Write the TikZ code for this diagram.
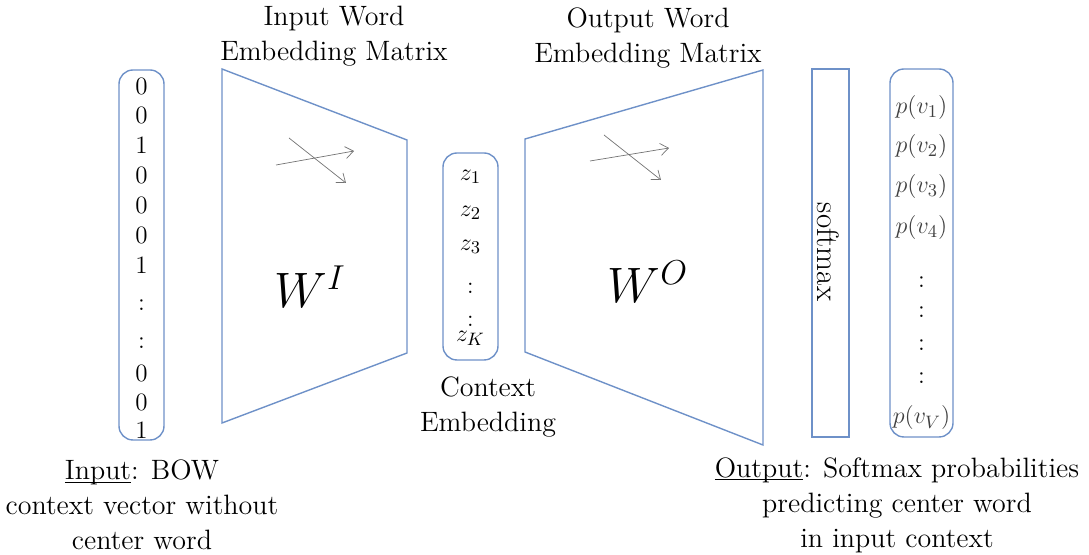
\documentclass[tikz,border=0pt]{standalone}
\usepackage{amsmath,amssymb}
\usepackage{tikz}
\usetikzlibrary{arrows.meta,positioning}
\definecolor{lineblue}{RGB}{110,145,200}
\newcommand{\ulword}[1]{\setbox0\hbox{#1}\rlap{\rule[-1.6pt]{\wd0}{0.45pt}}#1}
\tikzset{
    vecbox/.style={
                draw=lineblue,
                line width=0.7pt,
                rounded corners=7pt,
                inner sep=0pt
            },
        matedge/.style={
                draw=lineblue,
                line width=0.7pt
            },
        flowarrow/.style={
                draw=black!55,
                line width=0.35pt,
                -{Straight Barb[length=4pt,width=6pt]}
            },
        caption/.style={
                align=center,
                font=\fontsize{14}{17.5}\selectfont
            },
        entry/.style={
                font=\fontsize{12.5}{14}\selectfont,
                inner sep=0pt
            },
}

\begin{document}
\begin{tikzpicture}[x=0.5pt,y=-0.5pt]
  \useasboundingbox (0,0) rectangle (1089,555);
  % Input vector
  \node[vecbox,minimum width=22.5pt,minimum height=185pt] (inputvec) at (141.5,255) {};
  \foreach \yy/\val in {86/0,115/0,145/1,175/0,205/0,235/0,265/1,305/:,343/:,373/0,402/0,430/1}
    \node[entry] at (141.5,\yy) {\val};
  % Input word embedding matrix
  \draw[matedge] (222,69) -- (407,140) -- (407,353) -- (222,423) -- cycle;
  \node[font=\fontsize{25}{28}\selectfont] (WI) at (310,287) {$W^I$};
  \draw[flowarrow] (276,165) -- (354,151);
  \draw[flowarrow] (289,138) -- (346,183);
  \node[caption] (inlabel) at (334,36) {Input Word\\Embedding Matrix};
  % Context embedding
  \node[vecbox,minimum width=27.5pt,minimum height=103.5pt] (zvec) at (470.5,256.5) {};
  \foreach \yy/\val in {177/z_1,213/z_2,247/z_3,288/:,321/:,338/z_K}
    \node[entry] at (470.5,\yy) {$\val$};
  \node[caption] (ctxlabel) at (488,407) {Context\\Embedding};
  % Output word embedding matrix
  \draw[matedge] (525,139) -- (763,70) -- (763,445) -- (525,352) -- cycle;
  \node[font=\fontsize{25}{28}\selectfont] (WO) at (648,282) {$W^O$};
  \draw[flowarrow] (590,161) -- (669,148);
  \draw[flowarrow] (604,135) -- (661,180);
  \node[caption] (outlabel) at (648,38) {Output Word\\Embedding Matrix};
  % Softmax
  \node[draw=lineblue,line width=0.6pt,minimum width=18.5pt,minimum height=184pt,inner sep=0pt] (softmax) at (830.5,253) {};
  \node[rotate=-90,font=\fontsize{15.5}{17}\selectfont] (softtext) at (828,252) {softmax};
  % Output probabilities
  \node[vecbox,minimum width=31.5pt,minimum height=184pt] (pvec) at (921.5,253) {};
  \foreach \yy/\val in {108/v_1,147/v_2,187/v_3,228/v_4,418/v_V}
    \node[entry,text=black!75] at (921.5,\yy) {$p(\val)$};
  \foreach \yy in {282,312,345,378}
    \node[entry] at (921.5,\yy) {:};
  % Bottom captions
  \node[caption] (incap) at (142,505) {\ulword{Input}: BOW\\context vector without\\center word};
  \node[caption] (outcap) at (897,505) {\ulword{Output}: Softmax probabilities\\predicting center word\\in input context};
\end{tikzpicture}
\end{document}
